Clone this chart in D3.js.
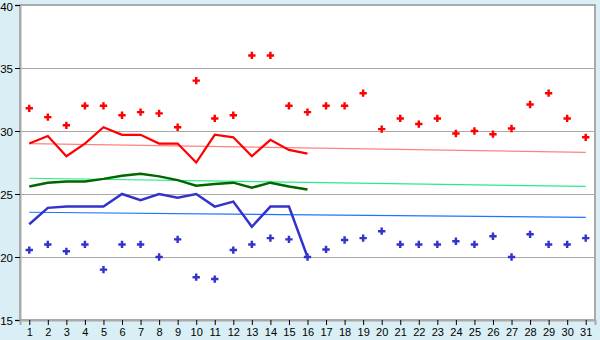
<!DOCTYPE html>
<html>
<head>
<meta charset="utf-8">
<script src="https://cdn.jsdelivr.net/npm/d3@7"></script>
<style>
  body { margin: 0; background: #d9eff5; }
  svg { display: block; font-family: "DejaVu Sans", Verdana, sans-serif; }
</style>
</head>
<body>
<div class="display"></div>
<script>
const days = d3.range(1, 32);
const yTicks = [15, 20, 25, 30, 35, 40];

// daily scatter values
const redPoints = [31.8, 31.1, 30.45, 32, 32, 31.25, 31.5, 31.4, 30.3, 34,
    31, 31.25, 36, 36, 32, 31.5, 32, 32, 33, 30.15,
    31, 30.55, 31, 29.8, 30, 29.75, 30.2, 32.1, 33, 31, 29.5];
const bluePoints = [20.55, 21, 20.45, 21, 19, 21, 21, 20, 21.4, 18.4,
    18.25, 20.55, 21, 21.5, 21.4, 20, 20.6, 21.35, 21.5, 22.05,
    21, 21, 21, 21.25, 21, 21.65, 20, 21.8, 21, 21, 21.5];

// thick lines, days 1-16
const redLine = [29, 29.6, 28, 29, 30.3, 29.7, 29.7, 29, 29, 27.5, 29.7, 29.5, 28, 29.3, 28.5, 28.2];
const greenLine = [25.6, 25.9, 26, 26, 26.2, 26.45, 26.6, 26.4, 26.1, 25.65, 25.8, 25.9, 25.5, 25.9, 25.6, 25.35];
const blueLine = [22.6, 23.9, 24, 24, 24, 25, 24.5, 25, 24.7, 25, 24, 24.4, 22.4, 24, 24, 20];

// thin trend lines: [day, value] at both ends
const redTrend = [[1, 29.0], [31, 28.3]];
const greenTrend = [[1, 26.25], [31, 25.6]];
const blueTrend = [[1, 23.55], [31, 23.15]];

const width = 600;
const height = 340;
const plotLeft = 20, plotRight = 595, plotTop = 5, plotBottom = 320;

const svg = d3.select('.display')
    .append('svg')
    .attr('width', width)
    .attr('height', height);

const xScale = d3.scaleLinear().domain([0.5, 31.5]).range([plotLeft, plotRight]);
const yScale = d3.scaleLinear().domain([15, 40]).range([plotBottom, plotTop]);

svg.append('rect')
    .attr('x', plotLeft)
    .attr('y', plotTop)
    .attr('width', plotRight - plotLeft)
    .attr('height', plotBottom - plotTop)
    .attr('fill', 'white')
    .attr('stroke', '#aaaaaa')
    .attr('stroke-width', 2)
    .attr('shape-rendering', 'crispEdges');

svg.append('g')
    .selectAll('line')
    .data(yTicks.filter(d => d > 15 && d < 40))
    .enter()
    .append('line')
    .attr('x1', plotLeft)
    .attr('x2', plotRight)
    .attr('y1', d => Math.round(yScale(d)) + 0.5)
    .attr('y2', d => Math.round(yScale(d)) + 0.5)
    .attr('stroke', '#aaaaaa');

const yAxis = d3.axisLeft(yScale).tickValues(yTicks).tickSize(5).tickPadding(2);
svg.append('g')
    .attr('transform', `translate(${plotLeft}, 0)`)
    .call(yAxis)
    .call(g => g.select('.domain').attr('stroke', '#aaaaaa').attr('stroke-width', 2))
    .call(g => g.selectAll('.tick line').attr('stroke', 'black'))
    .call(g => g.selectAll('.tick text')
        .attr('font-size', 11.5)
        .attr('fill', 'black')
        .attr('dy', d => d === 40 ? '0.5em' : '0.36em'));

const xAxis = d3.axisBottom(xScale).tickValues(days).tickSize(5).tickPadding(3);
svg.append('g')
    .attr('transform', `translate(0, ${plotBottom})`)
    .call(xAxis)
    .call(g => g.select('.domain').attr('stroke', '#aaaaaa').attr('stroke-width', 2))
    .call(g => g.selectAll('.tick line').attr('stroke', 'black'))
    .call(g => g.selectAll('.tick text').attr('font-size', 11).attr('fill', 'black'));

const line = d3.line().x(d => xScale(d[0])).y(d => yScale(d[1]));

function drawLine(values, color, w) {
    svg.append('path')
        .datum(values.map((v, i) => [i + 1, v]))
        .attr('d', line)
        .attr('fill', 'none')
        .attr('stroke', color)
        .attr('stroke-width', w);
}

function drawTrend(pts, color) {
    svg.append('path')
        .datum(pts)
        .attr('d', line)
        .attr('fill', 'none')
        .attr('stroke', color)
        .attr('stroke-width', 1.2);
}

drawTrend(redTrend, '#ff8080');
drawTrend(greenTrend, '#22ee88');
drawTrend(blueTrend, '#1a75ff');

drawLine(redLine, '#ff0000', 2.2);
drawLine(greenLine, '#006600', 2.5);
drawLine(blueLine, '#3333cc', 2.5);

const cross = d3.symbol().type(d3.symbolCross).size(30);

function drawPoints(values, color) {
    svg.append('g')
        .selectAll('path')
        .data(values)
        .enter()
        .append('path')
        .attr('d', cross)
        .attr('transform', (d, i) => `translate(${xScale(i + 1)}, ${yScale(d)})`)
        .attr('fill', color);
}

drawPoints(redPoints, '#ff0000');
drawPoints(bluePoints, '#3333cc');
</script>
</body>
</html>
